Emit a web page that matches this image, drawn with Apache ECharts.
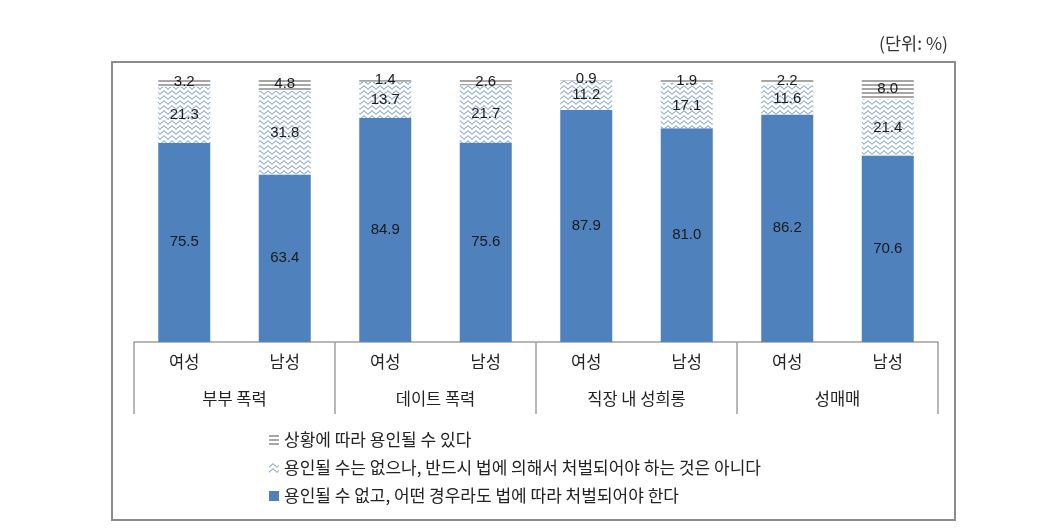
<!DOCTYPE html>
<html>
<head>
<meta charset="utf-8">
<script src="https://cdn.jsdelivr.net/npm/echarts@6/dist/echarts.min.js"></script>
<style>html,body{margin:0;padding:0;background:#fff;}#c{width:1046px;height:531px;}</style>
</head>
<body>
<div id="c"></div>
<script>
var subCategories = ['여성','남성','여성','남성','여성','남성','여성','남성'];
var groupCategories = ['부부 폭력','데이트 폭력','직장 내 성희롱','성매매'];
var seriesNames = [
  '용인될 수 없고, 어떤 경우라도 법에 따라 처벌되어야 한다',
  '용인될 수는 없으나, 반드시 법에 의해서 처벌되어야 하는 것은 아니다',
  '상황에 따라 용인될 수 있다'
];
var mustPunish = [75.5, 63.4, 84.9, 75.6, 87.9, 81.0, 86.2, 70.6];
var notNecessarily = [21.3, 31.8, 13.7, 21.7, 11.2, 17.1, 11.6, 21.4];
var situational = [3.2, 4.8, 1.4, 2.6, 0.9, 1.9, 2.2, 8.0];

function wavePattern(){
  var c = document.createElement('canvas');
  c.width = 8; c.height = 5;
  var g = c.getContext('2d');
  g.fillStyle = '#ffffff'; g.fillRect(0,0,8,5);
  g.strokeStyle = '#4f81bd'; g.lineWidth = 1;
  g.beginPath();
  for (var x = 0; x <= 8; x += 0.5) {
    var y = 2.5 + 1.5 * Math.cos(x / 8 * Math.PI * 2);
    if (x === 0) g.moveTo(x, y); else g.lineTo(x, y);
  }
  g.stroke();
  return c;
}
function stripePattern(){
  var c = document.createElement('canvas');
  c.width = 4; c.height = 4;
  var g = c.getContext('2d');
  g.fillStyle = '#ffffff'; g.fillRect(0,0,4,4);
  g.fillStyle = '#a6a6a6'; g.fillRect(0,0,4,2);
  return c;
}

var font = '"Noto Sans CJK KR", sans-serif';
var labelStyle = {
  show: true, position: 'inside', color: '#1a1a1a',
  fontSize: 15, fontFamily: 'Arial, "Liberation Sans", sans-serif',
  formatter: function(p){ return p.value.toFixed(1); }
};

var chart = echarts.init(document.getElementById('c'));
chart.setOption({
  animation: false,
  backgroundColor: '#ffffff',
  grid: { left: 134, right: 108, top: 78, bottom: 189 },
  yAxis: { type: 'value', min: 0, max: 100, show: false },
  xAxis: [
    {
      type: 'category', data: subCategories, position: 'bottom',
      axisLine: { show: false }, axisTick: { show: false },
      axisLabel: { margin: 11, fontSize: 16.5, color: '#222', fontFamily: font, interval: 0 }
    },
    {
      type: 'category', data: groupCategories, position: 'bottom',
      axisLine: { show: true, lineStyle: { color: '#a0a0a0', width: 1.5 } },
      axisTick: { show: true, length: 72, interval: 0, lineStyle: { color: '#a0a0a0', width: 1.5 } },
      axisLabel: { margin: 48, fontSize: 16.5, color: '#222', fontFamily: font, interval: 0 }
    }
  ],
  legend: {
    orient: 'vertical', left: 264, top: 426, icon: 'rect',
    itemWidth: 10, itemHeight: 10, itemGap: 10,
    data: [seriesNames[2], seriesNames[1], seriesNames[0]],
    textStyle: { fontSize: 17, color: '#222', fontFamily: font, lineHeight: 18 }
  },
  series: [
    { name: seriesNames[0], type: 'bar', stack: 'a', barWidth: 52, data: mustPunish,
      itemStyle: { color: '#4f81bd' }, label: labelStyle },
    { name: seriesNames[1], type: 'bar', stack: 'a', barWidth: 52, data: notNecessarily,
      itemStyle: { color: { image: wavePattern(), repeat: 'repeat' } }, label: labelStyle },
    { name: seriesNames[2], type: 'bar', stack: 'a', barWidth: 52, data: situational,
      itemStyle: { color: { image: stripePattern(), repeat: 'repeat' } }, label: labelStyle }
  ],
  graphic: [
    { type: 'rect', shape: { x: 112, y: 62, width: 843, height: 458 },
      style: { fill: null, stroke: '#8c8c8c', lineWidth: 2 }, silent: true },
    { type: 'text', right: 98, top: 35,
      style: { text: '(단위: %)', fontSize: 17.5, fill: '#333', fontFamily: font } }
  ]
});
</script>
</body>
</html>
